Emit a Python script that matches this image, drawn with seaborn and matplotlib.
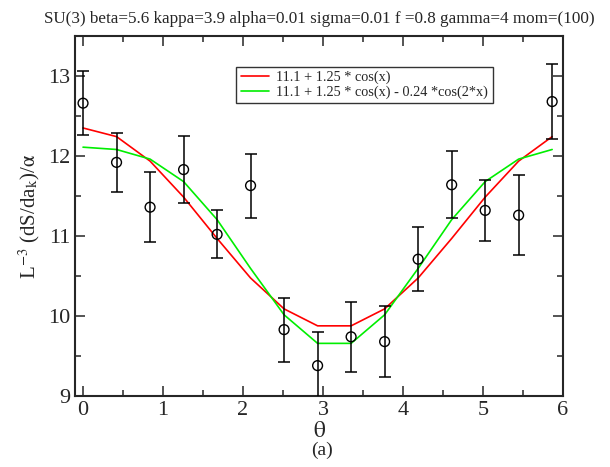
import numpy as np
import pandas as pd
import matplotlib
matplotlib.use('Agg')
import matplotlib.pyplot as plt
from matplotlib.ticker import MultipleLocator
import seaborn as sns

# data
theta = [0.0, 0.419, 0.838, 1.257, 1.676, 2.094, 2.513, 2.932, 3.351, 3.770, 4.189, 4.608, 5.027, 5.445, 5.864]
dS = [12.66, 11.92, 11.36, 11.83, 11.02, 11.63, 9.83, 9.38, 9.74, 9.68, 10.71, 11.64, 11.32, 11.26, 12.68]
err = [0.40, 0.37, 0.44, 0.42, 0.30, 0.40, 0.40, 0.42, 0.44, 0.44, 0.40, 0.42, 0.38, 0.50, 0.47]
fit1 = [12.350, 12.242, 11.936, 11.486, 10.969, 10.475, 10.089, 9.877, 9.877, 10.089, 10.475, 10.969, 11.486, 11.936, 12.242]
fit2 = [12.110, 12.081, 11.961, 11.680, 11.204, 10.595, 10.015, 9.658, 9.658, 10.015, 10.595, 11.204, 11.680, 11.961, 12.081]
label1 = '11.1 + 1.25 * cos(x)'
label2 = '11.1 + 1.25 * cos(x) - 0.24 *cos(2*x)'

sns.set_style('ticks')
plt.rcParams['font.family'] = ['Liberation Serif', 'DejaVu Serif']
plt.rcParams['mathtext.fontset'] = 'stix'

df = pd.DataFrame({'theta': theta, 'dS': dS, 'err': err, 'fit1': fit1, 'fit2': fit2})

fig = plt.figure(figsize=(6.1, 4.67), dpi=100)
ax = fig.add_axes([0.123, 0.152, 0.800, 0.771])

sns.lineplot(data=df, x='theta', y='fit1', color='#ff0000', lw=1.2, label=label1, ax=ax)
sns.lineplot(data=df, x='theta', y='fit2', color='#00ee00', lw=1.2, label=label2, ax=ax)
ax.errorbar(df['theta'], df['dS'], yerr=df['err'], fmt='none', ecolor='black',
            elinewidth=1.1, capsize=4, capthick=1.1, zorder=3)
sns.scatterplot(data=df, x='theta', y='dS', marker='o', s=50, facecolor='none',
                edgecolor='black', linewidth=1.0, zorder=4, ax=ax)

ax.set_xlim(-0.1, 6)
ax.set_ylim(9, 13.5)
ax.xaxis.set_major_locator(MultipleLocator(1))
ax.xaxis.set_minor_locator(MultipleLocator(0.5))
ax.yaxis.set_major_locator(MultipleLocator(1))
ax.yaxis.set_minor_locator(MultipleLocator(0.5))
ax.tick_params(which='both', direction='in', top=True, right=True, width=1.1, labelsize=16)
ax.tick_params(which='major', length=7)
ax.tick_params(which='minor', length=4)
for s in ax.spines.values():
    s.set_linewidth(1.5)

ax.set_xlabel(r'$\mathrm{\theta}$', fontsize=17, labelpad=1)
ax.set_ylabel(r'L$^{-3}$ (dS/da$_\mathrm{k}$)/$\mathrm{\alpha}$', fontsize=15, labelpad=4)
ax.set_title('SU(3) beta=5.6 kappa=3.9 alpha=0.01 sigma=0.01 f =0.8 gamma=4 mom=(100)',
             fontsize=12.3, pad=9)
fig.text(0.528, 0.025, '(a)', ha='center', fontsize=14)

leg = ax.legend(loc='upper left', bbox_to_anchor=(0.316, 0.935), fontsize=10.3,
                frameon=True, fancybox=False, edgecolor='black', borderpad=0.3,
                handlelength=2.0, labelspacing=0.1, handletextpad=0.5)
leg.get_frame().set_linewidth(1.0)

plt.savefig('out.png', dpi=100)
